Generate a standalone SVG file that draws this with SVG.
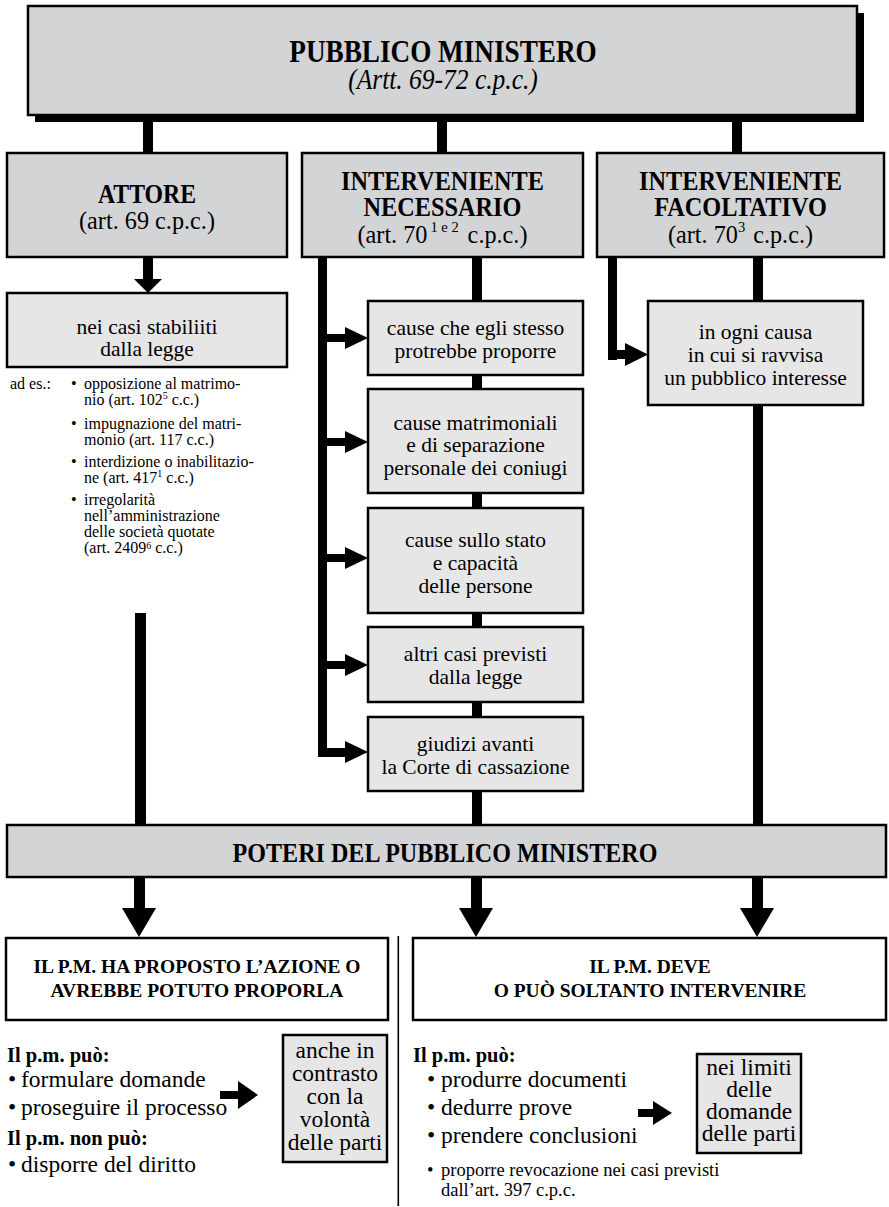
<svg xmlns="http://www.w3.org/2000/svg" width="889" height="1207" viewBox="0 0 889 1207">
<style>
.bx{stroke:#000;stroke-width:2.5}
.g1{fill:#d3d4d6}
.g2{fill:#e6e6e7}
.wh{fill:#fff}
.bar{fill:#000}
.ttl{font-family:"Liberation Serif",serif;font-weight:bold;font-size:27px}
.sub{font-family:"Liberation Serif",serif;font-weight:normal;font-size:25px}
.mid{text-anchor:middle}
.box{font-family:"Liberation Serif",serif;font-size:21.5px}
.lst{font-family:"Liberation Serif",serif;font-size:16px}
.par{font-family:"Liberation Serif",serif;font-size:23.5px}
.hd{font-family:"Liberation Serif",serif;font-weight:bold;font-size:20.5px}
.hb{font-family:"Liberation Serif",serif;font-weight:bold;font-size:19.5px}
.sm{font-family:"Liberation Serif",serif;font-size:18.5px}
</style>
<rect width="889" height="1207" fill="#fff"/>
<g id="connectors">
  <rect class="bar" x="143" y="112" width="10" height="42"/>
  <rect class="bar" x="437" y="112" width="10" height="42"/>
  <rect class="bar" x="732" y="112" width="10" height="42"/>
  <rect class="bar" x="143" y="256" width="10" height="24"/>
  <polygon class="bar" points="134,279 162,279 148,293"/>
  <rect class="bar" x="135" y="613" width="11" height="213"/>
  <rect class="bar" x="318" y="256" width="9" height="501"/>
  <rect class="bar" x="472" y="256" width="10" height="570"/>
  <rect class="bar" x="318" y="334" width="28" height="8"/>
  <polygon class="bar" points="345,327 345,349 368,338"/>
  <rect class="bar" x="318" y="438" width="28" height="8"/>
  <polygon class="bar" points="345,431 345,453 368,442"/>
  <rect class="bar" x="318" y="554" width="28" height="8"/>
  <polygon class="bar" points="345,547 345,569 368,558"/>
  <rect class="bar" x="318" y="661" width="28" height="8"/>
  <polygon class="bar" points="345,654 345,676 368,665"/>
  <rect class="bar" x="318" y="748" width="28" height="9"/>
  <polygon class="bar" points="345,741 345,763 368,752"/>
  <rect class="bar" x="608" y="256" width="9" height="104"/>
  <rect class="bar" x="608" y="350" width="19" height="9"/>
  <polygon class="bar" points="625,343 625,366 648,354.5"/>
  <rect class="bar" x="753" y="256" width="10" height="570"/>
  <rect class="bar" x="134" y="876" width="11" height="33"/>
  <polygon class="bar" points="122,908 156,908 139,937"/>
  <rect class="bar" x="471" y="876" width="11" height="33"/>
  <polygon class="bar" points="459,908 493,908 476,937"/>
  <rect class="bar" x="752" y="876" width="11" height="33"/>
  <polygon class="bar" points="740,908 774,908 757,937"/>
  <rect class="bar" x="220" y="1091" width="19" height="8"/>
  <polygon class="bar" points="238,1081 238,1109 258,1095"/>
  <rect class="bar" x="638" y="1109" width="16" height="8"/>
  <polygon class="bar" points="653,1101 653,1125 672,1113"/>
  <rect class="bar" x="397.5" y="936" width="1.6" height="270"/>
</g>
<g id="pubblico-ministero">
  <rect x="35" y="13" width="829" height="109" fill="#000"/>
  <rect class="bx g1" x="28" y="6" width="829" height="109"/>
  <text class="ttl" transform="translate(443 62) scale(0.85 1)" text-anchor="middle" style="font-size:32px">PUBBLICO MINISTERO</text>
  <text class="sub" transform="translate(443 89) scale(0.85 1)" text-anchor="middle" style="font-size:30px;font-style:italic">(Artt. 69-72 c.p.c.)</text>
</g>
<g id="attore">
  <rect class="bx g1" x="7" y="153" width="280" height="104"/>
  <text class="ttl" transform="translate(147 203) scale(0.88 1)" text-anchor="middle">ATTORE</text>
  <text class="sub" transform="translate(147 229) scale(0.97 1)" text-anchor="middle">(art. 69 c.p.c.)</text>
</g>
<g id="interveniente-necessario">
  <rect class="bx g1" x="302" y="153" width="281" height="104"/>
  <text class="ttl" transform="translate(442.5 190) scale(0.9 1)" text-anchor="middle">INTERVENIENTE</text>
  <text class="ttl" transform="translate(442.5 216) scale(0.9 1)" text-anchor="middle">NECESSARIO</text>
  <text class="sub" transform="translate(442.5 243) scale(0.97 1)" text-anchor="middle">(art. 70<tspan dx="3" dy="-11" style="font-size:15px">1 e 2</tspan><tspan dx="3" dy="11"> c.p.c.)</tspan></text>
</g>
<g id="interveniente-facoltativo">
  <rect class="bx g1" x="597" y="153" width="287" height="104"/>
  <text class="ttl" transform="translate(740.5 190) scale(0.9 1)" text-anchor="middle">INTERVENIENTE</text>
  <text class="ttl" transform="translate(740.5 216) scale(0.9 1)" text-anchor="middle">FACOLTATIVO</text>
  <text class="sub" transform="translate(740.5 243) scale(0.97 1)" text-anchor="middle">(art. 70<tspan dy="-11" style="font-size:15px">3</tspan><tspan dx="2" dy="11"> c.p.c.)</tspan></text>
</g>
<g id="nei-casi">
  <rect class="bx g2" x="7" y="293" width="280" height="74"/>
  <text class="box mid" x="147" y="334">nei casi stabiliiti</text>
  <text class="box mid" x="147" y="356">dalla legge</text>
</g>
<g id="esempi">
  <text class="lst" x="10" y="389">ad es.:</text>
  <text class="lst" x="71" y="389">•</text>
  <text class="lst" x="84" y="389">opposizione al matrimo-</text>
  <text class="lst" x="84" y="405">nio (art. 102<tspan dy="-6" style="font-size:10px">5</tspan><tspan dy="6"> c.c.)</tspan></text>
  <text class="lst" x="71" y="429">•</text>
  <text class="lst" x="84" y="429">impugnazione del matri-</text>
  <text class="lst" x="84" y="445">monio (art. 117 c.c.)</text>
  <text class="lst" x="71" y="467">•</text>
  <text class="lst" x="84" y="467">interdizione o inabilitazio-</text>
  <text class="lst" x="84" y="483">ne (art. 417<tspan dy="-6" style="font-size:10px">1</tspan><tspan dy="6"> c.c.)</tspan></text>
  <text class="lst" x="71" y="505">•</text>
  <text class="lst" x="84" y="505">irregolarità</text>
  <text class="lst" x="84" y="521">nell’amministrazione</text>
  <text class="lst" x="84" y="537">delle società quotate</text>
  <text class="lst" x="84" y="553">(art. 2409<tspan dy="-4" style="font-size:10px">6</tspan><tspan dy="4"> c.c.)</tspan></text>
</g>
<g id="cause-proporre">
  <rect class="bx g2" x="368" y="301" width="215" height="74"/>
  <text class="box mid" x="475.5" y="335">cause  che egli stesso</text>
  <text class="box mid" x="475.5" y="358">protrebbe  proporre</text>
</g>
<g id="cause-matrimoniali">
  <rect class="bx g2" x="368" y="389" width="215" height="104"/>
  <text class="box mid" x="475.5" y="430">cause matrimoniali</text>
  <text class="box mid" x="475.5" y="452">e di separazione</text>
  <text class="box mid" x="475.5" y="475">personale dei coniugi</text>
</g>
<g id="cause-stato">
  <rect class="bx g2" x="368" y="508" width="215" height="105"/>
  <text class="box mid" x="475.5" y="547">cause sullo stato</text>
  <text class="box mid" x="475.5" y="570">e capacità</text>
  <text class="box mid" x="475.5" y="593">delle persone</text>
</g>
<g id="altri-casi">
  <rect class="bx g2" x="368" y="627" width="215" height="75"/>
  <text class="box mid" x="475.5" y="661">altri casi previsti</text>
  <text class="box mid" x="475.5" y="684">dalla legge</text>
</g>
<g id="giudizi-cassazione">
  <rect class="bx g2" x="368" y="717" width="215" height="74"/>
  <text class="box mid" x="475.5" y="751">giudizi avanti</text>
  <text class="box mid" x="475.5" y="774">la Corte di cassazione</text>
</g>
<g id="pubblico-interesse">
  <rect class="bx g2" x="648" y="301" width="215" height="104"/>
  <text class="box mid" x="755.5" y="339">in ogni causa</text>
  <text class="box mid" x="755.5" y="362">in cui si ravvisa</text>
  <text class="box mid" x="755.5" y="385">un pubblico interesse</text>
</g>
<g id="poteri">
  <rect class="bx g1" x="7" y="825" width="879" height="52"/>
  <text class="ttl" transform="translate(445 862) scale(0.86 1)" text-anchor="middle" style="font-size:28px">POTERI DEL PUBBLICO MINISTERO</text>
</g>
<g id="azione">
  <rect class="bx wh" x="6" y="938" width="382" height="82"/>
  <text class="hb mid" x="197" y="973">IL P.M. HA PROPOSTO L’AZIONE O</text>
  <text class="hb mid" x="197" y="997">AVREBBE POTUTO PROPORLA</text>
</g>
<g id="intervenire">
  <rect class="bx wh" x="413" y="938" width="473" height="82"/>
  <text class="hb mid" x="650" y="973">IL P.M. DEVE</text>
  <text class="hb mid" x="650" y="997">O PUÒ SOLTANTO INTERVENIRE</text>
</g>
<g id="poteri-azione">
  <text class="hd" x="7" y="1062">Il p.m. può:</text>
  <text class="par" x="8" y="1087">•</text>
  <text class="par" x="21" y="1087">formulare domande</text>
  <text class="par" x="8" y="1115">•</text>
  <text class="par" x="21" y="1115">proseguire il processo</text>
  <text class="hd" x="7" y="1145">Il p.m. non può:</text>
  <text class="par" x="8" y="1172">•</text>
  <text class="par" x="21" y="1172">disporre del diritto</text>
</g>
<g id="anche-contrasto">
  <rect class="bx g2" x="283" y="1035" width="104" height="127"/>
  <text class="par mid" x="335" y="1058">anche in</text>
  <text class="par mid" x="335" y="1081">contrasto</text>
  <text class="par mid" x="335" y="1104">con la</text>
  <text class="par mid" x="335" y="1127">volontà</text>
  <text class="par mid" x="335" y="1150">delle parti</text>
</g>
<g id="poteri-intervento">
  <text class="hd" x="413" y="1062">Il p.m. può:</text>
  <text class="par" x="427" y="1087">•</text>
  <text class="par" x="441" y="1087">produrre documenti</text>
  <text class="par" x="427" y="1115">•</text>
  <text class="par" x="441" y="1115">dedurre prove</text>
  <text class="par" x="427" y="1143">•</text>
  <text class="par" x="441" y="1143">prendere conclusioni</text>
  <text class="sm" x="427" y="1176">•</text>
  <text class="sm" x="441" y="1176">proporre revocazione nei casi previsti</text>
  <text class="sm" x="441" y="1196">dall’art. 397 c.p.c.</text>
</g>
<g id="nei-limiti">
  <rect class="bx g2" x="697" y="1054" width="104" height="99"/>
  <text class="par mid" x="749" y="1075">nei limiti</text>
  <text class="par mid" x="749" y="1097">delle</text>
  <text class="par mid" x="749" y="1119">domande</text>
  <text class="par mid" x="749" y="1141">delle parti</text>
</g>
</svg>
